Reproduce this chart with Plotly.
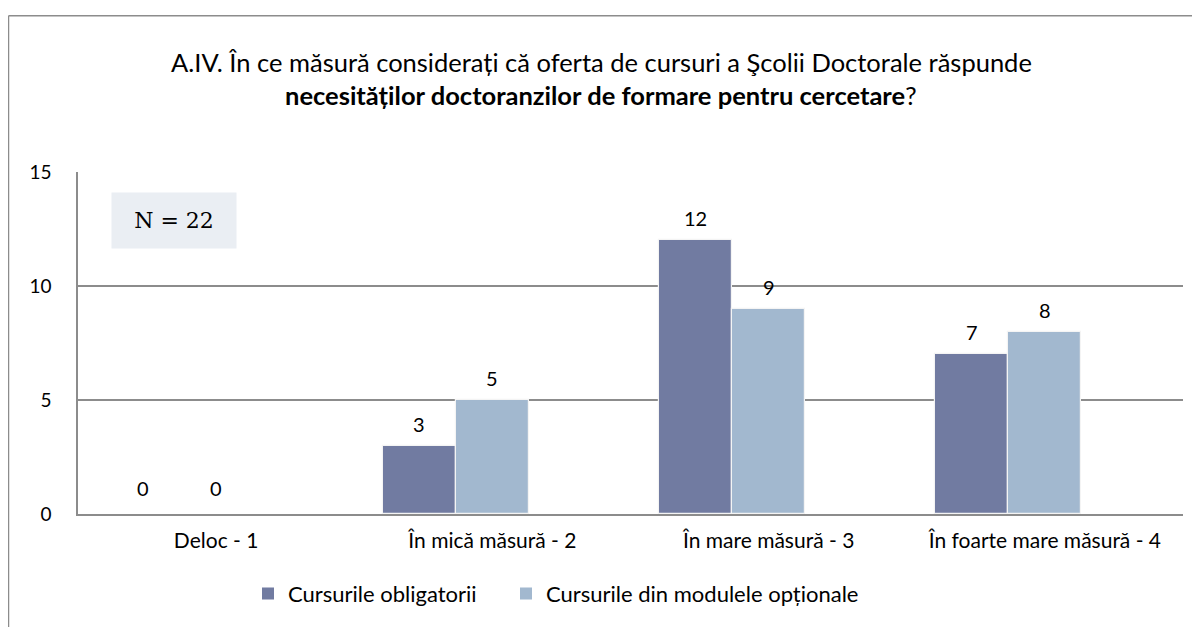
import plotly.graph_objects as go

categories = ["Deloc - 1", "În mică măsură - 2", "În mare măsură - 3", "În foarte mare măsură - 4"]
series_names = ["Cursurile obligatorii", "Cursurile din modulele opționale"]
obligatorii = [0, 3, 12, 7]
optionale = [0, 5, 9, 8]
y_ticks = [0, 5, 10, 15]

colors = ["#717BA1", "#A2B8CF"]
W = 0.265
offsets = [-1.5 * W, -0.5 * W]

# pixel layout (figure coordinates); page adds an 8px body margin
FW, FH = 1192, 619
L, R, T, B = 70, 1175, 164, 512
PW, PH = R - L, B - T

def px(x):
    return (x - L) / PW

def py(y):
    return (B - y) / PH

FONT = "Lato"

fig = go.Figure()
legend_ids = ["legend", "legend2"]
for name, vals, col, off, lg in zip(series_names, [obligatorii, optionale], colors, offsets, legend_ids):
    fig.add_trace(go.Bar(
        x=categories, y=vals, name=name, width=W, offset=off, legend=lg,
        marker=dict(color=col,
                    line=dict(color=["rgba(0,0,0,0)" if v == 0 else "#F4F4F4" for v in vals], width=1.2)),
    ))

annotations = []
bar_px = W * PW / 4
for vals, shift in [(obligatorii, -bar_px), (optionale, 0)]:
    for c, v in zip(categories, vals):
        annotations.append(dict(
            x=c, y=v, xref="x", yref="y", text=str(v), showarrow=False,
            xshift=shift, yshift=22 if v > 0 else 26, font=dict(family=FONT, size=20, color="#000"),
        ))

annotations.append(dict(
    x=px(593), y=py(52), xref="paper", yref="paper", showarrow=False,
    text="A.IV. În ce măsură considerați că oferta de cursuri a Şcolii Doctorale răspunde",
    font=dict(family=FONT, size=25.5, color="#000"), xanchor="center", yanchor="middle",
))
annotations.append(dict(
    x=px(593), y=py(86), xref="paper", yref="paper", showarrow=False,
    text="<b>necesităților doctoranzilor de formare pentru cercetare</b>?",
    font=dict(family=FONT, size=25.5, color="#000"), xanchor="center", yanchor="middle",
))
annotations.append(dict(
    x=px(166), y=py(213.5), xref="paper", yref="paper", showarrow=False,
    text="N = 22", width=122, height=53, bgcolor="#EAEEF3",
    font=dict(family="DejaVu Serif", size=22, color="#000"), xanchor="center", yanchor="middle",
))

border = dict(color="#8C8C8C", width=1.5)
shapes = [
    dict(type="line", xref="paper", yref="paper", x0=px(0.5), x1=px(0.5), y0=py(FH + 50), y1=py(5), line=border),
    dict(type="line", xref="paper", yref="paper", x0=px(0.5), x1=px(FW + 50), y0=py(5), y1=py(5), line=border),
]

leg_common = dict(orientation="h", xanchor="left", yanchor="middle",
                  font=dict(family=FONT, size=22, color="#000"), itemwidth=30)
fig.update_layout(
    width=FW, height=FH,
    margin=dict(l=L, r=FW - R, t=T, b=FH - B),
    paper_bgcolor="white", plot_bgcolor="white",
    barmode="group", bargap=0, bargroupgap=0,
    showlegend=True,
    legend=dict(x=px(240), y=py(593), **leg_common),
    legend2=dict(x=px(498), y=py(593), **leg_common),
    annotations=annotations, shapes=shapes,
    font=dict(family=FONT, color="#000"),
)
fig.update_xaxes(
    showline=True, linecolor="#8C8C8C", linewidth=1.5, showgrid=False,
    tickfont=dict(family=FONT, size=21, color="#000"), ticks="", ticklabelstandoff=7,
)
fig.update_yaxes(
    range=[0, 15], tickvals=y_ticks, showgrid=True, gridcolor="#8C8C8C", gridwidth=1.5,
    showline=True, linecolor="#8C8C8C", linewidth=1.5, zeroline=False,
    tickfont=dict(family=FONT, size=19, color="#000"), ticks="", ticklabelstandoff=21,
)

fig.write_html("out.html")
